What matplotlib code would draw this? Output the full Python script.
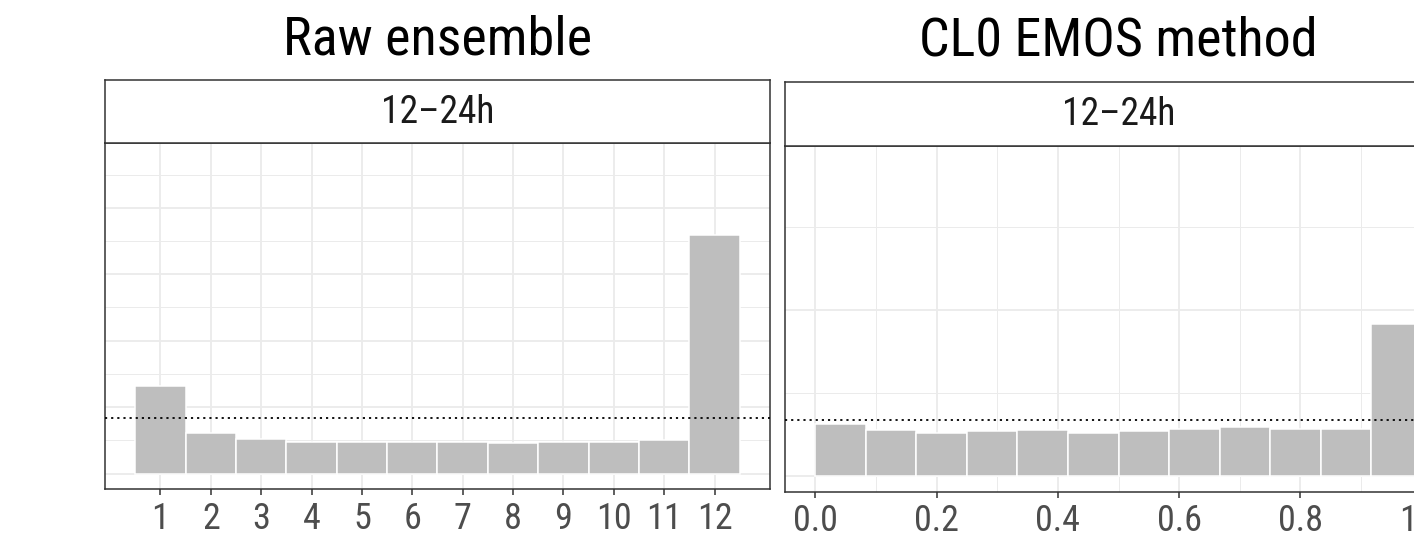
import numpy as np
import matplotlib
matplotlib.use('Agg')
import matplotlib.pyplot as plt

plt.rcParams['font.family'] = ['Roboto Condensed', 'Archivo Narrow', 'Liberation Sans', 'DejaVu Sans']

# rank histogram of the raw ensemble (relative frequency per rank)
rawRanks = [1, 2, 3, 4, 5, 6, 7, 8, 9, 10, 11, 12]
rawFreq = [0.132, 0.061, 0.052, 0.048, 0.048, 0.047, 0.047, 0.046, 0.047, 0.048, 0.051, 0.359]

# PIT histogram of the CL0 EMOS forecasts, 12 bins on [0, 1]
pitFreq = [0.078, 0.069, 0.065, 0.068, 0.069, 0.065, 0.068, 0.071, 0.074, 0.070, 0.070, 0.228]
pitTicks = [0.0, 0.2, 0.4, 0.6, 0.8, 1.0]
pitTickLabels = ['0.0', '0.2', '0.4', '0.6', '0.8', '1.0']

titles = ['Raw ensemble', 'CL0 EMOS method']
stripLabel = '12\u201324h'

barColor = '#bebebe'
gridColor = '#ebebeb'
borderColor = '#333333'

W, H = 1414, 536
fig = plt.figure(figsize=(W / 100, H / 100), dpi=100)


def px(x0, top, x1, bottom):
    # pixel box -> figure fraction rect
    return [x0 / W, (H - bottom) / H, (x1 - x0) / W, (bottom - top) / H]


def styleAxes(ax):
    ax.set_facecolor('white')
    for s in ax.spines.values():
        s.set_color(borderColor)
        s.set_linewidth(1.1)
    ax.set_axisbelow(True)
    ax.grid(which='major', color=gridColor, linewidth=1.3)
    ax.grid(which='minor', color=gridColor, linewidth=0.7)
    ax.tick_params(axis='y', which='both', left=False, labelleft=False)
    ax.tick_params(axis='x', which='major', length=4.5, width=1.1, color=borderColor,
                   labelsize=26, labelcolor='#4d4d4d', pad=4)
    ax.tick_params(axis='x', which='minor', length=0)
    ax.set_ylim(-0.0237, 0.497)
    ax.axhline(1 / 12, color='black', linestyle=(0, (1.2, 2.2)), linewidth=1.3, zorder=3)


def addStrip(x0, top, x1, bottom):
    sx = fig.add_axes(px(x0, top, x1, bottom))
    sx.set_xticks([])
    sx.set_yticks([])
    sx.set_facecolor('white')
    for s in sx.spines.values():
        s.set_color(borderColor)
        s.set_linewidth(1.1)
    sx.text(0.5, 0.48, stripLabel, transform=sx.transAxes, ha='center', va='center',
            fontsize=27, color='#1a1a1a')
    return sx


# left panel: raw ensemble
ax1 = fig.add_axes(px(105, 143.3, 770, 489.3))
styleAxes(ax1)
ax1.bar(rawRanks, rawFreq, width=1.0, color=barColor, edgecolor='white', linewidth=1.1, zorder=2)
ax1.set_xlim(-0.1, 13.1)
ax1.set_xticks(rawRanks)
ax1.set_yticks(np.arange(0, 0.45, 0.1))
ax1.set_yticks(np.arange(0.05, 0.5, 0.1), minor=True)
addStrip(105, 80, 770, 143.3)
fig.text(437.5 / W, (H - 54.3) / H, titles[0], ha='center', va='baseline', fontsize=39)

# right panel: CL0 EMOS (runs past the right edge of the figure)
edges = np.linspace(0, 1, len(pitFreq) + 1)
ax2 = fig.add_axes(px(785, 145.7, 1452, 491.5))
styleAxes(ax2)
ax2.bar(edges[:-1], pitFreq, width=edges[1] - edges[0], align='edge', color=barColor,
        edgecolor='white', linewidth=1.1, zorder=2)
ax2.set_xlim(-0.05, 1.05)
ax2.set_xticks(pitTicks)
ax2.set_xticklabels(pitTickLabels)
ax2.set_xticks(np.arange(0.1, 1.0, 0.2), minor=True)
ax2.set_yticks([0, 0.25])
ax2.set_yticks([0.125, 0.375], minor=True)
addStrip(785, 81.7, 1452, 145.7)
fig.text(1118.5 / W, (H - 56) / H, titles[1], ha='center', va='baseline', fontsize=39)

fig.savefig('out.png', dpi=100)
